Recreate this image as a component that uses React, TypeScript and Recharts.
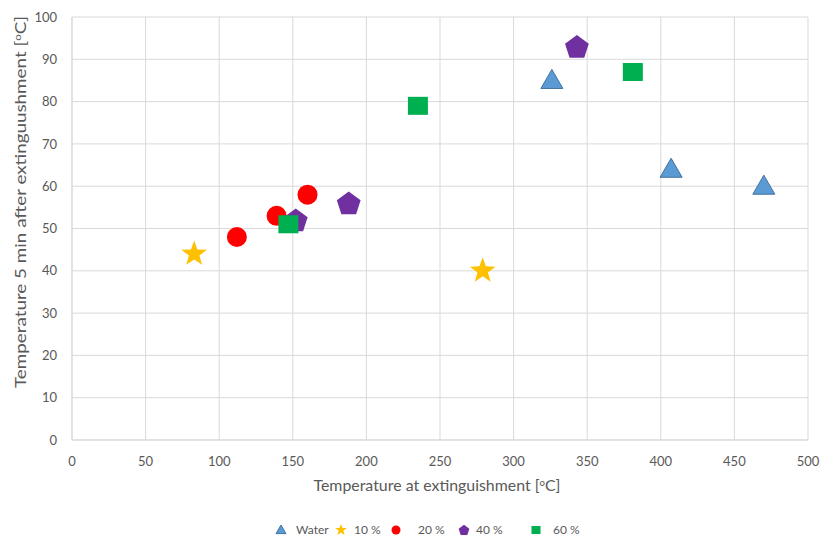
import { CartesianGrid, Scatter, ScatterChart, XAxis, YAxis, Legend } from "recharts"

const water = [
  { x: 326, y: 85 },
  { x: 407, y: 64 },
  { x: 470, y: 60 },
]
const pct10 = [
  { x: 83, y: 44 },
  { x: 279, y: 40 },
]
const pct20 = [
  { x: 112, y: 48 },
  { x: 139, y: 53 },
  { x: 160, y: 58 },
]
const pct40 = [
  { x: 152, y: 52 },
  { x: 188, y: 56 },
  { x: 343, y: 93 },
]
const pct60 = [
  { x: 147, y: 51 },
  { x: 235, y: 79 },
  { x: 381, y: 87 },
]

const xTicks = [0, 50, 100, 150, 200, 250, 300, 350, 400, 450, 500]
const yTicks = [0, 10, 20, 30, 40, 50, 60, 70, 80, 90, 100]

const FONT = "Lato, 'Open Sans', sans-serif"
const AXIS_GREY = "#d9d9d9"
const TEXT_GREY = "#595959"

type Kind = "triangle" | "star" | "circle" | "pentagon" | "square"

function starPath(cx: number, cy: number, outer: number, inner: number) {
  let d = ""
  for (let i = 0; i < 10; i++) {
    const r = i % 2 === 0 ? outer : inner
    const a = -Math.PI / 2 + (i * Math.PI) / 5
    d += (i === 0 ? "M" : "L") + (cx + r * Math.cos(a)) + "," + (cy + r * Math.sin(a))
  }
  return d + "Z"
}

function polyPath(cx: number, cy: number, r: number, n: number) {
  let d = ""
  for (let i = 0; i < n; i++) {
    const a = -Math.PI / 2 + (i * 2 * Math.PI) / n
    d += (i === 0 ? "M" : "L") + (cx + r * Math.cos(a)) + "," + (cy + r * Math.sin(a))
  }
  return d + "Z"
}

function Marker({ kind, cx, cy, s = 1 }: { kind: Kind; cx: number; cy: number; s?: number }) {
  switch (kind) {
    case "triangle":
      return (
        <path
          d={`M${cx},${cy - 11 * s}L${cx + 11 * s},${cy + 8 * s}L${cx - 11 * s},${cy + 8 * s}Z`}
          fill="#5b9bd5"
          stroke="#41719c"
          strokeWidth={1}
        />
      )
    case "star":
      return <path d={starPath(cx, cy, 13.5 * s, 5.5 * s)} fill="#ffc000" />
    case "circle":
      return <circle cx={cx} cy={cy} r={10 * s} fill="#ff0000" />
    case "pentagon":
      return <path d={polyPath(cx, cy + 1 * s, 12.5 * s, 5)} fill="#7030a0" />
    case "square":
      return <rect x={cx - 10 * s} y={cy - 9 * s} width={20 * s} height={18 * s} fill="#00b050" />
  }
}

const shapeOf = (kind: Kind) => (props: any) => <Marker kind={kind} cx={props.cx} cy={props.cy} />

// marker centre and label start, in page pixels
const legendItems: { kind: Kind; label: string; mx: number; lx: number }[] = [
  { kind: "triangle", label: "Water", mx: 281, lx: 296 },
  { kind: "star", label: "10 %", mx: 341, lx: 354 },
  { kind: "circle", label: "20 %", mx: 396, lx: 418 },
  { kind: "pentagon", label: "40 %", mx: 464, lx: 476 },
  { kind: "square", label: "60 %", mx: 536, lx: 553 },
]

function LegendContent() {
  return (
    <div style={{ position: "relative", width: 823, height: 30, fontFamily: FONT, fontSize: 12, color: TEXT_GREY }}>
      {legendItems.map((it) => (
        <div key={it.label}>
          <svg width={14} height={14} style={{ position: "absolute", left: it.mx - 7, top: 15 }}>
            <Marker kind={it.kind} cx={7} cy={7} s={0.45} />
          </svg>
          <span style={{ position: "absolute", left: it.lx, top: 14, lineHeight: "16px" }}>{it.label}</span>
        </div>
      ))}
    </div>
  )
}

function DegLabel({
  text,
  x,
  y,
  len,
  rotate,
}: {
  text: string
  x: number
  y: number
  len: number
  rotate?: boolean
}) {
  return (
    <text
      x={x}
      y={y}
      textAnchor="middle"
      fill={TEXT_GREY}
      fontFamily={FONT}
      fontSize={15}
      textLength={len}
      lengthAdjust="spacingAndGlyphs"
      transform={rotate ? `rotate(-90, ${x}, ${y})` : undefined}
    >
      {text} [
      <tspan fontSize={9} dy={-5}>
        o
      </tspan>
      <tspan dy={5}>C]</tspan>
    </text>
  )
}

export default function App() {
  return (
    <div style={{ position: "absolute", left: 0, top: 0, width: 823, height: 538, background: "#fff" }}>
      <ScatterChart width={823} height={538} margin={{ top: 17, right: 15, left: 0, bottom: 0 }}>
        <CartesianGrid stroke={AXIS_GREY} strokeWidth={1} />
        <XAxis
          type="number"
          dataKey="x"
          domain={[0, 500]}
          ticks={xTicks}
          height={68}
          stroke={AXIS_GREY}
          tickLine={false}
          tick={{ fill: TEXT_GREY, fontFamily: FONT, fontSize: 13, dy: 9 }}
          label={() => <DegLabel text="Temperature at extinguishment" x={437} y={491} len={247} />}
        />
        <YAxis
          type="number"
          dataKey="y"
          domain={[0, 100]}
          ticks={yTicks}
          width={72}
          stroke={AXIS_GREY}
          tickLine={false}
          tick={{ fill: TEXT_GREY, fontFamily: FONT, fontSize: 13, dx: -7 }}
          label={() => (
            <DegLabel text="Temperature 5 min after extinguushment" x={26} y={202} len={372} rotate />
          )}
        />
        <Legend verticalAlign="bottom" height={30} content={() => <LegendContent />} wrapperStyle={{ left: 0 }} />
        <Scatter name="Water" data={water} shape={shapeOf("triangle")} isAnimationActive={false} />
        <Scatter name="10 %" data={pct10} shape={shapeOf("star")} isAnimationActive={false} />
        <Scatter name="20 %" data={pct20} shape={shapeOf("circle")} isAnimationActive={false} />
        <Scatter name="40 %" data={pct40} shape={shapeOf("pentagon")} isAnimationActive={false} />
        <Scatter name="60 %" data={pct60} shape={shapeOf("square")} isAnimationActive={false} />
      </ScatterChart>
    </div>
  )
}
